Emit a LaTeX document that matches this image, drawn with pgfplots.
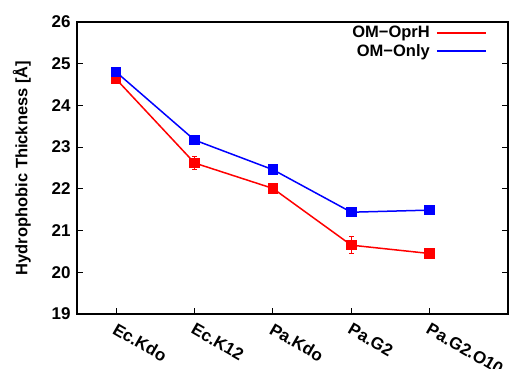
\documentclass[border=0pt]{standalone}
\usepackage{pgfplots}
\pgfplotsset{compat=1.18}
\usepackage{fontspec}
\setmainfont{Liberation Sans}
\begin{document}
\begin{tikzpicture}
\begin{axis}[
  scale only axis,
  width=431pt, height=292pt,
  xmin=0.5, xmax=6, ymin=19, ymax=26,
  xtick={1,2,3,4,5},
  xticklabels={Ec.Kdo,Ec.K12,Pa.Kdo,Pa.G2,Pa.G2.O10},
  x tick label style={rotate=-30, anchor=north west, font=\fontsize{17}{19}\selectfont\bfseries, xshift=2pt, yshift=-3pt},
  ytick={19,20,21,22,23,24,25,26},
  y tick label style={font=\fontsize{17}{19}\selectfont\bfseries, xshift=-3pt},
  /pgf/number format/assume math mode=true,
  tick align=inside,
  xtick pos=bottom,
  ytick pos=both,
  major tick length=6pt,
  tick style={line width=1pt, black},
  axis line style={line width=1.5pt},
  ylabel={\bfseries Hydrophobic Thickness [Å]},
  ylabel style={font=\fontsize{16.5}{18}\selectfont, yshift=14pt},
  legend style={draw=none, fill=none, at={(1,1)}, anchor=north east, xshift=-21pt, yshift=-2pt, font=\fontsize{16.5}{17}\selectfont\bfseries, row sep=1pt, column sep=4pt, inner xsep=0pt, inner ysep=0pt},
  legend cell align=right,
  legend plot pos=right,
  legend image code/.code={\draw[line width=2pt] (0pt,0pt) -- (49pt,0pt);},
]
\addplot[red, line width=1.5pt, mark=square*, mark size=4.5pt, error bars/.cd, y dir=both, y explicit, error bar style={line width=1pt}, error mark options={rotate=90, mark size=2.5pt, line width=1pt}]
  coordinates {(1,24.63) +- (0,0.05) (2,22.62) +- (0,0.15) (3,22.01) +- (0,0.04) (4,20.65) +- (0,0.2) (5,20.45) +- (0,0.1)};
\addlegendentry{OM−OprH}
\addplot[blue, line width=1.5pt, mark=square*, mark size=4.5pt, error bars/.cd, y dir=both, y explicit, error bar style={line width=1pt}, error mark options={rotate=90, mark size=2.5pt, line width=1pt}]
  coordinates {(1,24.8) +- (0,0.1) (2,23.17) +- (0,0.08) (3,22.46) +- (0,0.07) (4,21.44) +- (0,0.03) (5,21.49) +- (0,0.03)};
\addlegendentry{OM−Only}
\end{axis}
\pgfresetboundingbox
\path (current axis.south west) ++(-77pt,-55pt) coordinate (bbA);
\path (current axis.north east) ++(9pt,22pt) coordinate (bbB);
\path[use as bounding box] (bbA) rectangle (bbB);
\end{tikzpicture}
\end{document}
